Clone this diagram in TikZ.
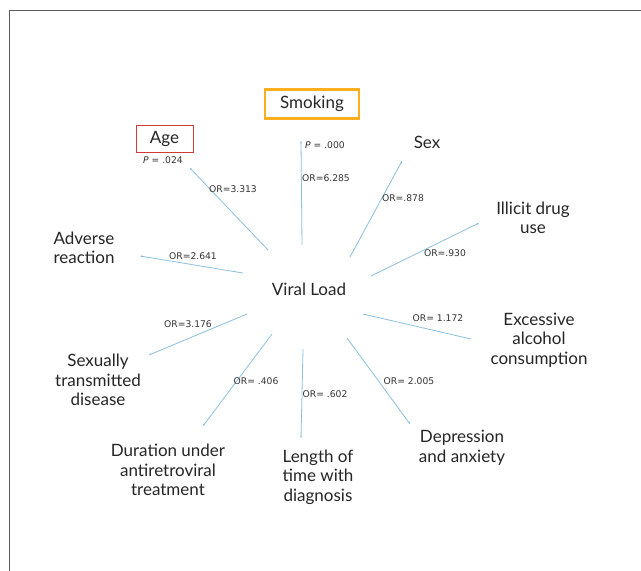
\documentclass[tikz,border=0pt]{standalone}
\usepackage{fontspec}
\setmainfont{Lato}
\newfontfamily\smallfont{DejaVu Sans}
\usetikzlibrary{arrows.meta}
\definecolor{linkblue}{RGB}{140,192,222}
\definecolor{smokeorange}{RGB}{250,176,30}
\definecolor{agered}{RGB}{205,60,60}
\definecolor{framegray}{RGB}{90,90,90}
\tikzset{
  factor/.style={align=center, inner sep=0pt, font=\fontsize{17}{19.5}\selectfont, text=black!85},
  orlab/.style={inner sep=0pt, font=\smallfont\fontsize{9.2}{11}\selectfont, text=black!80},
  link/.style={draw=linkblue, line width=0.8pt, -{Stealth[length=2.5pt,width=2pt]}},
}
\begin{document}
\begin{tikzpicture}[x=1pt,y=-1pt]
\useasboundingbox (0,0) rectangle (641,571);
\fill[white] (0,0) rectangle (641,571);
% frame
\draw[framegray, line width=1.5pt] (9.5,571) -- (9.5,10.5) -- (641,10.5);

% centre
\node[factor] (vl) at (309,289) {Viral Load};

% factors
\node[factor, draw=smokeorange, line width=2.2pt, minimum width=94pt, minimum height=29pt] (smoking) at (312,104) {Smoking};
\node[factor, draw=agered, line width=0.8pt, minimum width=57pt, minimum height=27pt] (age) at (164.5,138.5) {Age};
\node[factor] (sex) at (427,142) {Sex};
\node[factor] (drug) at (533,218) {Illicit drug\\use};
\node[factor] (alcohol) at (539,340) {Excessive\\alcohol\\consumption};
\node[factor] (depr) at (462,448) {Depression\\and anxiety};
\node[factor] (length) at (318,477) {Length of\\time with\\diagnosis};
\node[factor] (duration) at (168,470) {Duration under\\antiretroviral\\treatment};
\node[factor] (std) at (98,380) {Sexually\\transmitted\\disease};
\node[factor] (adverse) at (84,248) {Adverse\\reaction};

% p values
\node[orlab] (pAge) at (163,160) {\textit{P} = .024};
\node[orlab] (pSmoke) at (325,145) {\textit{P} = .000};

% connector end points
\coordinate (aS) at (268,250); \coordinate (aE) at (190,168);
\coordinate (sS) at (302,245); \coordinate (sE) at (301,141);
\coordinate (xS) at (350,257); \coordinate (xE) at (402,161);
\coordinate (dS) at (371,276); \coordinate (dE) at (479,223);
\coordinate (eS) at (363,314); \coordinate (eE) at (471,339);
\coordinate (pS) at (347,338); \coordinate (pE) at (410,424);
\coordinate (lS) at (303,349); \coordinate (lE) at (301,438);
\coordinate (uS) at (272,334); \coordinate (uE) at (203,426);
\coordinate (tS) at (247,314); \coordinate (tE) at (149,355);
\coordinate (rS) at (243,273); \coordinate (rE) at (140,256);

\draw[link] (aS) -- (aE);
\draw[link] (sS) -- (sE);
\draw[link] (xS) -- (xE);
\draw[link] (dS) -- (dE);
\draw[link] (eS) -- (eE);
\draw[link] (pS) -- (pE);
\draw[link] (lS) -- (lE);
\draw[link] (uS) -- (uE);
\draw[link] (tS) -- (tE);
\draw[link] (rS) -- (rE);

% OR labels
\node[orlab] (orAge) at (233,189) {OR=3.313};
\node[orlab] (orSmoke) at (326,178) {OR=6.285};
\node[orlab] (orSex) at (403,198) {OR=.878};
\node[orlab] (orDrug) at (445,253) {OR=.930};
\node[orlab] (orAlc) at (438,318) {OR= 1.172};
\node[orlab] (orDep) at (409,381) {OR= 2.005};
\node[orlab] (orLen) at (325,394) {OR= .602};
\node[orlab] (orDur) at (256,381) {OR= .406};
\node[orlab] (orStd) at (188,324) {OR=3.176};
\node[orlab] (orAdv) at (193,256) {OR=2.641};
\end{tikzpicture}
\end{document}
